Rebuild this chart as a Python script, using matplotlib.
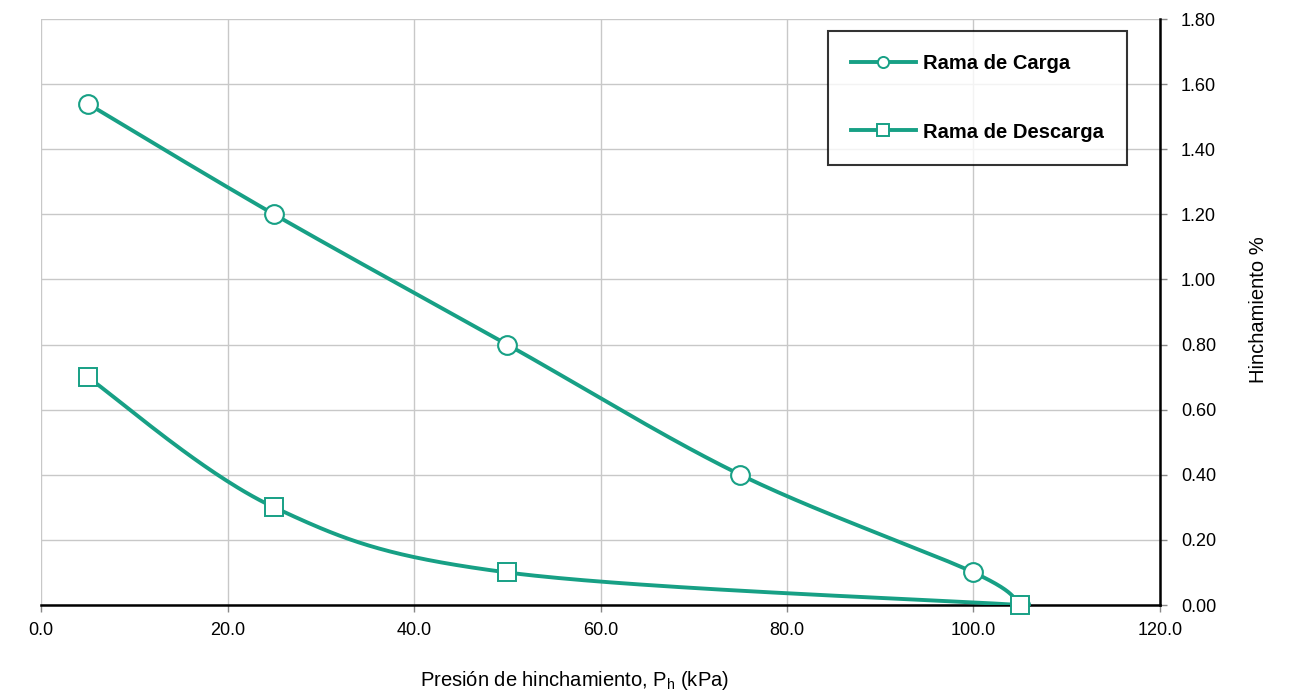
import numpy as np
import matplotlib
matplotlib.use("Agg")
import matplotlib.pyplot as plt
from matplotlib.lines import Line2D

plt.rcParams['font.family'] = ['Liberation Sans', 'DejaVu Sans']

carga_x = [5, 25, 50, 75, 100, 105]
carga_y = [1.54, 1.20, 0.80, 0.40, 0.10, 0.00]
descarga_x = [5, 25, 50, 105]
descarga_y = [0.70, 0.30, 0.10, 0.00]
xticks = [0, 20, 40, 60, 80, 100, 120]
yticks = [0.0, 0.2, 0.4, 0.6, 0.8, 1.0, 1.2, 1.4, 1.6, 1.8]

COLOR = '#17a085'


def smooth(xs, ys, n=60):
    """Excel-style smoothed line (Catmull-Rom Bezier) through points."""
    p = np.column_stack([xs, ys]).astype(float)
    out = []
    for i in range(len(p) - 1):
        p0 = p[i - 1] if i > 0 else p[i]
        p1 = p[i]
        p2 = p[i + 1]
        p3 = p[i + 2] if i + 2 < len(p) else p[i + 1]
        c1 = p1 + (p2 - p0) / 6.0
        c2 = p2 - (p3 - p1) / 6.0
        t = np.linspace(0, 1, n)[:, None]
        seg = ((1 - t) ** 3) * p1 + 3 * ((1 - t) ** 2) * t * c1 + 3 * (1 - t) * t ** 2 * c2 + t ** 3 * p2
        out.append(seg if i == 0 else seg[1:])
    s = np.vstack(out)
    return s[:, 0], s[:, 1]


fig = plt.figure(figsize=(12.97, 6.95), dpi=100)
ax = fig.add_axes([41 / 1297, 1 - 605 / 695, (1160 - 41) / 1297, (605 - 19) / 695])

sx, sy = smooth(carga_x, carga_y)
ax.plot(sx, sy, color=COLOR, lw=2.8, zorder=3)
ax.plot(carga_x, carga_y, ls='none', marker='o', ms=13.5, mfc='white', mec=COLOR, mew=1.5, zorder=4)

sx, sy = smooth(descarga_x, descarga_y)
ax.plot(sx, sy, color=COLOR, lw=2.8, zorder=3)
ax.plot(descarga_x, descarga_y, ls='none', marker='s', ms=13.5, mfc='white', mec=COLOR, mew=1.4, zorder=4, clip_on=False)

ax.set_xlim(0, 120)
ax.set_ylim(0, 1.8)
ax.set_xticks(xticks)
ax.set_xticklabels([f"{v:.1f}" for v in xticks])
ax.set_yticks(yticks)
ax.set_yticklabels([f"{v:.2f}" for v in yticks])
ax.yaxis.tick_right()
ax.tick_params(axis='both', direction='out', length=5, width=1, color='#888888', labelsize=13)
ax.tick_params(axis='y', pad=10)
ax.tick_params(axis='x', pad=7)
ax.grid(True, color='#c8c8c8', lw=1)
ax.set_axisbelow(True)
for s in ['top', 'left']:
    ax.spines[s].set_visible(False)
for s in ['right', 'bottom']:
    ax.spines[s].set_color('black')
    ax.spines[s].set_linewidth(1.8)

fig.text(1258 / 1297, 1 - 310 / 695, 'Hinchamiento %', rotation=90, ha='center', va='center', fontsize=14.5)
fig.text(575 / 1297, 1 - 680 / 695, 'Presión de hinchamiento, P$_\\mathregular{h}$ (kPa)', ha='center', va='center', fontsize=14.5)

handles = [
    Line2D([], [], color=COLOR, lw=2.8, marker='o', ms=8, mfc='white', mec=COLOR, mew=1.4),
    Line2D([], [], color=COLOR, lw=2.8, marker='s', ms=8, mfc='white', mec=COLOR, mew=1.4),
]
leg = ax.legend(handles, ['Rama de Carga', 'Rama de Descarga'], loc='upper left',
                bbox_to_anchor=((828 - 41) / (1160 - 41), 1 - (31 - 19) / (605 - 19)),
                frameon=True, fancybox=False, shadow=False, edgecolor='black',
                prop={'weight': 'bold', 'size': 14.5}, handlelength=3.2, handletextpad=0.35,
                labelspacing=2.45, borderpad=1.15, borderaxespad=0)
leg.get_frame().set_linewidth(1.5)
leg.set_zorder(10)

fig.savefig('out.png', dpi=100)
